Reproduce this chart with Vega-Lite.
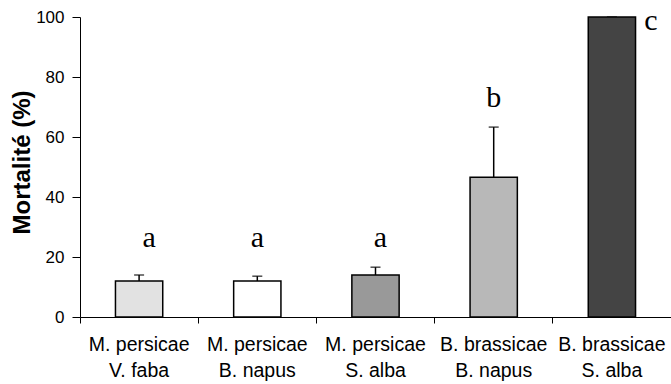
{
  "$schema": "https://vega.github.io/schema/vega-lite/v6.json",
  "width": 591,
  "height": 300,
  "autosize": {"type": "none"},
  "padding": {"left": 80, "top": 17, "right": 0, "bottom": 67},
  "background": "white",
  "config": {"view": {"stroke": null}, "font": "Liberation Sans", "axis": {"labelFont": "Liberation Sans", "titleFont": "Liberation Sans"}},
  "data": {
    "values": [
      {"group": "M. persicae|V. faba", "mean": 12.0, "err": 2.0, "letter": "a", "letter_y": 23.5},
      {"group": "M. persicae|B. napus", "mean": 12.0, "err": 1.6, "letter": "a", "letter_y": 23.5},
      {"group": "M. persicae|S. alba", "mean": 14.0, "err": 2.6, "letter": "a", "letter_y": 23.5},
      {"group": "B. brassicae|B. napus", "mean": 46.6, "err": 16.7, "letter": "b", "letter_y": 69.9},
      {"group": "B. brassicae|S. alba", "mean": 100.0, "err": 0.0, "letter": "c", "letter_y": 95.8}
    ]
  },
  "encoding": {
    "x": {
      "field": "group",
      "type": "nominal",
      "sort": null,
      "scale": {"paddingInner": 0, "paddingOuter": 0},
      "axis": {
        "title": null,
        "labelAngle": 0,
        "labelExpr": "split(datum.label, '|')",
        "labelFont": "Liberation Sans",
        "labelFontSize": 19.5,
        "labelColor": "black",
        "labelPadding": 12,
        "labelLineHeight": 26,
        "bandPosition": 0,
        "tickSize": 6,
        "tickColor": "black",
        "domainColor": "black",
        "domainWidth": 1,
        "tickWidth": 1
      }
    }
  },
  "layer": [
    {
      "mark": {"type": "rule", "color": "black", "strokeWidth": 1.5},
      "encoding": {
        "y": {"field": "mean", "type": "quantitative"},
        "y2": {"field": "top"}
      },
      "transform": [{"calculate": "datum.mean + datum.err", "as": "top"}]
    },
    {
      "transform": [{"calculate": "datum.mean + datum.err", "as": "top"}],
      "mark": {"type": "tick", "color": "black", "size": 10, "thickness": 1.5},
      "encoding": {"y": {"field": "top", "type": "quantitative"}}
    },
    {
      "mark": {"type": "bar", "width": {"band": 0.4}, "stroke": "black", "strokeWidth": 1.5},
      "encoding": {
        "y": {
          "field": "mean",
          "type": "quantitative",
          "scale": {"domain": [0, 100], "nice": false},
          "axis": {
            "title": "Mortalité (%)",
            "titleFont": "Liberation Sans",
            "titleFontSize": 24,
            "titleFontWeight": "bold",
            "titleColor": "black",
            "titlePadding": 1,
            "titleY": 145,
            "values": [0, 20, 40, 60, 80, 100],
            "grid": false,
            "labelFont": "Liberation Sans",
            "labelFontSize": 17,
            "labelColor": "black",
            "labelPadding": 8,
            "tickSize": 8,
            "tickColor": "black",
            "domainColor": "black"
          }
        },
        "fill": {
          "field": "group",
          "type": "nominal",
          "sort": null,
          "scale": {"range": ["#e2e2e2", "#ffffff", "#999999", "#b8b8b8", "#444444"]},
          "legend": null
        }
      }
    },
    {
      "transform": [{"filter": "datum.group == 'M. persicae|V. faba'"}],
      "mark": {"type": "text", "font": "Liberation Serif", "fontSize": 30, "baseline": "alphabetic", "color": "black", "dx": 10},
      "encoding": {
        "y": {"field": "letter_y", "type": "quantitative"},
        "text": {"field": "letter"}
      }
    },
    {
      "transform": [{"filter": "datum.group == 'M. persicae|B. napus' || datum.group == 'B. brassicae|B. napus'"}],
      "mark": {"type": "text", "font": "Liberation Serif", "fontSize": 30, "baseline": "alphabetic", "color": "black"},
      "encoding": {
        "y": {"field": "letter_y", "type": "quantitative"},
        "text": {"field": "letter"}
      }
    },
    {
      "transform": [{"filter": "datum.group == 'M. persicae|S. alba'"}],
      "mark": {"type": "text", "font": "Liberation Serif", "fontSize": 30, "baseline": "alphabetic", "color": "black", "dx": 5},
      "encoding": {
        "y": {"field": "letter_y", "type": "quantitative"},
        "text": {"field": "letter"}
      }
    },
    {
      "transform": [{"filter": "datum.letter == 'c'"}],
      "mark": {"type": "text", "font": "Liberation Serif", "fontSize": 30, "baseline": "alphabetic", "color": "black", "dx": 39},
      "encoding": {
        "y": {"field": "letter_y", "type": "quantitative"},
        "text": {"field": "letter"}
      }
    }
  ]
}
